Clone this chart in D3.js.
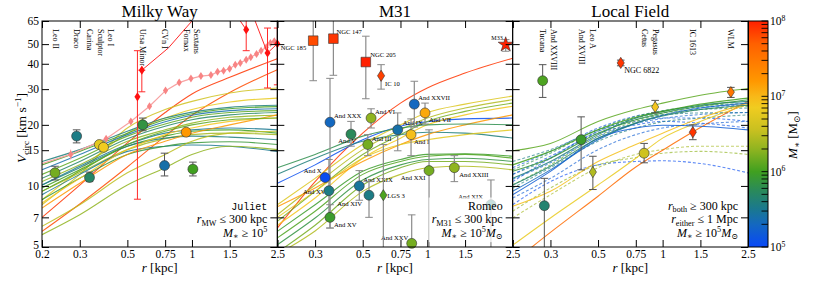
<!DOCTYPE html>
<html>
<head>
<meta charset="utf-8">
<script src="https://cdn.jsdelivr.net/npm/d3@7"></script>
<style>
  body { margin: 0; background: #fff; }
  svg text { font-family: "Liberation Serif", "DejaVu Serif", serif; fill: #000; }
</style>
</head>
<body>
<div id="chart"></div>
<script>
"use strict";

// radii (kpc) at which every simulated curve was read off the figure
let radiusGrid = [0.2, 0.3, 0.5, 0.75, 1, 1.5, 2.5];
let xTickValues = [0.2, 0.3, 0.5, 0.75, 1, 1.5, 2.5];
let yTickValues = [5, 7, 10, 15, 20, 30, 40, 50, 65];
let panelTitles = ['Milky Way', 'M31', 'Local Field'];

// log10 M* -> colour
let massStops = [5, 5.3, 5.5, 5.75, 6, 6.3, 6.55, 6.85, 7, 7.2, 7.7, 8];
let massColors = ['#0848f8', '#1468c0', '#1a7890', '#2a8a5a', '#40a020', '#90b420',
  '#c8c020', '#f0cc20', '#f8b818', '#ff9800', '#ff6000', '#ff2000'];

// curves: [log10 M*, Vcirc at each radiusGrid entry]
let mwCurves = [
  [7.9, 7.0, 10.1, 16.3, 23.0, 28.4, 34.3, 42.4],
  [7.8, 5.97, 8.15, 12.4, 17.6, 22.3, 28.9, 37.4],
  [6.6, 8.08, 11.4, 19.3, 23.8, 26.1, 28.7, 30.4],
  [6.8, 8.55, 12.0, 18.2, 21.6, 23.8, 25.9, 27.1],
  [5.6, 13.2, 15.1, 18.6, 21.6, 23.1, 24.4, 25.0],
  [6.0, 12.7, 14.8, 18.2, 21.2, 22.7, 24.0, 24.6],
  [5.4, 12.0, 14.3, 17.9, 20.7, 22.3, 23.5, 24.0],
  [6.1, 11.4, 13.7, 17.6, 20.2, 21.8, 23.0, 23.5],
  [5.7, 10.9, 13.2, 17.1, 19.7, 21.2, 22.4, 23.0],
  [6.3, 10.5, 12.7, 16.6, 18.9, 20.4, 21.8, 22.3],
  [5.5, 10.1, 12.5, 16.0, 18.2, 18.9, 19.3, 18.9],
  [6.0, 9.77, 12.0, 15.7, 17.6, 18.6, 18.9, 18.2],
  [6.4, 9.41, 11.6, 15.1, 17.1, 17.9, 18.2, 17.9],
  [5.6, 10.1, 12.3, 15.7, 17.2, 17.6, 17.4, 16.9],
  [5.5, 9.05, 11.4, 14.8, 15.7, 15.9, 15.7, 14.8],
  [5.9, 8.55, 10.9, 14.3, 15.7, 16.3, 16.5, 16.0],
  [6.3, 5.75, 7.21, 10.1, 12.3, 14.3, 15.7, 15.1],
  [7.2, 7.78, 10.3, 14.3, 16.6, 18.2, 20.0, 22.4],
  [6.9, 8.24, 10.9, 15.1, 17.9, 19.3, 20.8, 21.6],
  [6.1, 9.41, 11.8, 16.0, 18.6, 20.0, 21.2, 21.6],
  [6.5, 6.32, 8.08, 11.6, 14.3, 16.6, 18.2, 18.6]
];

let m31Curves = [
  [7.9, 6.2, 10.5, 18.2, 25.6, 30.4, 36.0, 42.6],
  [5.05, 10.3, 12.7, 16.9, 19.7, 20.7, 21.4, 21.6],
  [5.6, 11.4, 13.7, 16.6, 17.9, 18.4, 18.2, 17.2],
  [6.7, 8.08, 10.9, 16.0, 20.0, 23.0, 25.3, 27.7],
  [6.45, 7.21, 10.1, 15.1, 18.9, 21.6, 24.2, 26.6],
  [6.2, 6.69, 9.41, 14.3, 17.9, 20.8, 23.3, 25.6],
  [6.9, 6.4, 8.72, 13.7, 17.2, 20.0, 22.4, 24.7],
  [7.2, 7.9, 9.77, 13.2, 16.0, 17.9, 20.0, 22.4],
  [5.95, 5.97, 8.08, 11.8, 13.5, 14.3, 14.4, 14.0],
  [6.05, 5.54, 7.5, 11.4, 13.2, 14.0, 14.3, 13.7],
  [5.85, 5.13, 6.95, 10.7, 12.7, 13.5, 13.7, 13.2],
  [6.2, 4.7, 6.4, 10.1, 12.3, 13.2, 13.2, 12.7],
  [6.45, 4.6, 6.0, 9.4, 11.4, 12.3, 12.5, 12.0],
  [5.8, 12.3, 14.3, 17.6, 19.3, 20.0, 20.2, 20.0],
  [6.75, 7.0, 9.4, 13.7, 16.0, 16.9, 17.9, 18.9]
];

let fieldCurves = [
  [6.1, 14.9, 16.2, 20.8, 23.8, 25.6, 28.0, 30.2],
  [7.6, 4.2, 5.9, 8.9, 12.4, 15.0, 19.4, 26.1],
  [6.95, 7.94, 9.41, 13.2, 16.0, 18.2, 21.6, 25.6],
  [6.8, 5.1, 6.95, 10.1, 13.7, 17.2, 20.8, 25.2],
  [5.2, 9.05, 11.8, 17.2, 19.3, 19.9, 19.7, 18.9],
  [5.6, 10.9, 13.2, 17.9, 21.6, 23.3, 25.0, 26.1],
  [5.9, 11.8, 13.7, 18.2, 21.2, 22.9, 24.7, 26.6],
  [5.3, 9.41, 12.0, 16.9, 20.4, 22.3, 24.2, 25.6],
  [6.0, 12.7, 14.8, 18.9, 21.8, 23.3, 25.3, 27.1],
  [5.65, 10.1, 12.5, 17.2, 20.4, 22.1, 23.8, 25.0]
];

let fieldDashed = [
  [5.1, 10.5, 13.7, 18.6, 20.8, 21.6, 21.6, 20.8],
  [5.05, 8.08, 10.5, 12.7, 13.2, 13.3, 12.9, 11.6],
  [6.3, 7.5, 9.77, 12.7, 13.8, 14.5, 14.8, 14.3],
  [5.6, 11.4, 13.7, 18.6, 21.6, 22.9, 23.8, 24.2],
  [5.15, 12.3, 14.8, 19.3, 22.1, 23.3, 24.4, 25.0],
  [6.1, 10.1, 12.7, 17.6, 20.8, 22.4, 23.8, 24.7],
  [5.55, 13.2, 15.1, 18.9, 21.2, 22.4, 22.9, 23.0],
  [5.2, 8.72, 10.9, 15.1, 17.9, 19.3, 20.2, 20.8],
  [6.4, 6.95, 9.05, 12.3, 14.3, 15.1, 15.7, 15.7],
  [5.1, 11.4, 14.0, 18.2, 20.0, 20.8, 20.4, 19.3],
  [5.6, 9.77, 12.3, 16.6, 19.3, 20.7, 21.6, 22.4],
  [5.8, 12.0, 14.5, 19.0, 22.0, 23.5, 24.8, 25.5],
  [5.25, 10.8, 13.0, 17.5, 20.3, 21.5, 22.5, 23.0]
];

// observed dwarfs: [name, r, V, V low, V high, log10 M*, marker]
let mwDwarfs = [
  ['Leo II', 0.230, 11.6, 10.7, 12.5, 6.2, 'circle'],
  ['Draco', 0.290, 17.6, 16.3, 18.9, 5.55, 'circle'],
  ['Carina', 0.333, 11.0, 10.5, 11.7, 5.7, 'circle'],
  ['Sculptor', 0.370, 16.0, 15.5, 16.5, 6.75, 'circle'],
  ['Leo I', 0.387, 15.5, 15.0, 16.0, 6.85, 'circle'],
  ['Ursa Minor', 0.590, 20.0, 18.7, 21.6, 5.85, 'circle'],
  ['CVn I', 0.745, 12.6, 11.2, 14.5, 5.4, 'circle'],
  ['Fornax', 0.940, 18.4, 17.9, 18.9, 7.2, 'circle'],
  ['Sextans', 1.01, 12.1, 11.2, 13.1, 6.0, 'circle']
];

let m31Dwarfs = [
  ['NGC 185', 0.294, 52.0, 33.0, 70, 7.8, 'square'],
  ['NGC 147', 0.365, 53.2, 35.1, 70, 7.9, 'square'],
  ['NGC 205', 0.517, 40.8, 26.9, 54.7, 8.0, 'square'],
  ['IC 10', 0.609, 34.9, 30.0, 39.6, 7.85, 'diamond'],
  ['M33', 2.32, 49.7, 46.1, 52.6, 8.5, 'star'],
  ['And XXX', 0.352, 20.6, 6.2, 33.9, 5.3, 'circle'],
  ['And V', 0.441, 18.0, 15.7, 20.8, 5.75, 'circle'],
  ['And VI', 0.547, 21.6, 19.3, 24.0, 6.3, 'circle'],
  ['And III', 0.528, 16.0, 14.1, 17.9, 6.2, 'circle'],
  ['And XXVII', 0.870, 25.3, 19.5, 32.8, 5.3, 'circle'],
  ['And IX', 0.728, 18.9, 14.9, 22.9, 5.4, 'circle'],
  ['And VII', 0.976, 22.9, 20.2, 25.6, 7.1, 'circle'],
  ['And I', 0.840, 17.9, 14.1, 21.4, 6.95, 'circle'],
  ['And XXI', 1.019, 11.9, 4.0, 18.9, 6.2, 'circle'],
  ['And XXIII', 1.337, 12.3, 10.5, 14.1, 6.3, 'circle'],
  ['And XIX', 1.98, 8.08, 4.0, 10.7, 5.6, 'circle'],
  ['And X', 0.334, 11.0, 11.0, 11.0, 5.05, 'circle'],
  ['And XVII', 0.348, 9.47, 6.8, 13.5, 5.55, 'circle'],
  ['And XV', 0.352, 7.0, 6.2, 8.08, 5.95, 'circle'],
  ['And XXIX', 0.482, 10.0, 8.5, 11.9, 5.45, 'circle'],
  ['And XIV', 0.535, 9.0, 7.0, 10.5, 5.55, 'circle'],
  ['LGS 3', 0.624, 9.0, 4.0, 16.0, 6.05, 'diamond'],
  ['And XXV', 0.846, 5.21, 4.0, 7.2, 6.2, 'circle']
];

let fieldDwarfs = [
  ['Tucana', 0.276, 33.0, 27.3, 39.6, 6.05, 'circle'],
  ['And XXVIII', 0.281, 7.99, 4.0, 10.9, 5.65, 'circle'],
  ['And XVIII', 0.417, 16.9, 12.0, 21.9, 5.95, 'circle'],
  ['Leo A', 0.473, 11.7, 9.6, 14.0, 6.45, 'diamond'],
  ['NGC 6822', 0.638, 40.4, 39.1, 41.7, 7.9, 'diamond'],
  ['Cetus', 0.820, 14.5, 13.0, 16.2, 6.6, 'circle'],
  ['Pegasus', 0.923, 24.5, 22.9, 26.4, 6.9, 'diamond'],
  ['IC 1613', 1.383, 18.4, 16.9, 20.0, 7.9, 'diamond'],
  ['WLM', 2.08, 29.0, 27.3, 30.6, 7.5, 'diamond']
];

// red measurements in the MW panel: [r, V, V low, V high]
let mwRedPoints = [
  [0.557, 27.5, 8.6, 46.4],
  [0.584, 37.2, 29.1, 37.2],
  [1.79, 58.9, 46.4, 70],
  [2.25, 45.2, 30.4, 60],
  [2.5, 50.2, 31.5, 60]
];
let mwRedTracks = [
  [[0.584, 37.2], [0.777, 47.9], [1.0, 65]],
  [[1.68, 65], [1.79, 58.9]],
  [[1.97, 65], [2.25, 45.2], [2.5, 50.2]]
];

// pink rotation curve: [r, V, error]
let lmcCurve = [
  [0.17, 12.2, 0], [0.272, 14.3, 0.8], [0.398, 17.1, 0.4], [0.519, 20.8, 0.4],
  [0.634, 24.7, 0.5], [0.753, 29.5, 0.6], [0.872, 32.3, 0.6], [0.989, 33.8, 0.6],
  [1.101, 34.8, 0.6], [1.226, 35.2, 0.6], [1.316, 36.5, 0.7], [1.404, 37.0, 0.7],
  [1.498, 37.8, 0.7], [1.592, 39.6, 0.8], [1.68, 40.4, 0.8], [1.79, 41.9, 0.8],
  [1.88, 43.1, 0.8], [2.0, 44.7, 0.9], [2.10, 46.4, 0.9], [2.22, 48.2, 1.0],
  [2.32, 50.7, 1.0], [2.42, 51.6, 1.0]
];

let legendLines = [
  [[['Juliet', 'mono']], [['r', 'i'], ['MW', 'sub'], [' ≤ 300 kpc', '']], [['M', 'i'], ['∗', 'sub'], [' ≥ 10', ''], ['5', 'sup']]],
  [[['Romeo', '']], [['r', 'i'], ['M31', 'sub'], [' ≤ 300 kpc', '']], [['M', 'i'], ['∗', 'sub'], [' ≥ 10', ''], ['5', 'sup'], ['M', 'i'], ['⊙', 'sub']]],
  [[['r', 'i'], ['both', 'sub'], [' ≥ 300 kpc', '']], [['r', 'i'], ['either', 'sub'], [' ≤ 1 Mpc', '']], [['M', 'i'], ['∗', 'sub'], [' ≥ 10', ''], ['5', 'sup'], ['M', 'i'], ['⊙', 'sub']]]
];

// ---------------------------------------------------------------------------

let width = 830;
let height = 283;
let plotTop = 21;
let plotBottom = 247;
let plotLeft = 42;
let panelW = 235.33;

// label offsets (px) for the named points in the M31 / field panels
let labelOffsets = {
  'NGC 185': [-7, 9, 'end'], 'NGC 147': [3, -5, 'start'], 'NGC 205': [4.5, -5, 'start'],
  'IC 10': [4, 10, 'start'], 'M33': [-3, -5, 'end'], 'And XXVII': [4, -4, 'start'],
  'And XXX': [4, -4, 'start'], 'And VI': [4, -4, 'start'], 'And IX': [5, -5, 'start'],
  'And VII': [4, 9, 'start'], 'And V': [5, 9, 'end'], 'And III': [4, -4, 'start'],
  'And I': [3, 9, 'start'], 'And X': [-3.5, -5, 'end'], 'And XXI': [-3.5, 9, 'end'],
  'And XXIII': [5, 9, 'start'], 'And XXIX': [4, -4, 'start'], 'And XIV': [-7, 11, 'end'],
  'And XVII': [1, 3.5, 'end'], 'And XV': [4, 9.5, 'start'], 'LGS 3': [4, 3, 'start'],
  'And XIX': [-8, -6, 'end'], 'And XXV': [-3.5, -3, 'end'], 'NGC 6822': [3.5, 10, 'start']
};

let svg = d3.select('#chart')
  .append('svg')
  .attr('width', width)
  .attr('height', height);

let y = d3.scaleLog().domain([5, 65]).range([plotBottom, plotTop]);
let color = d3.scaleLinear().domain(massStops).range(massColors).clamp(true);

let markerPath = shape => {
  if (shape === 'square') return 'M-4.8,-4.8H4.8V4.8H-4.8Z';
  if (shape === 'diamond') return 'M0,-5.6L3.6,0L0,5.6L-3.6,0Z';
  if (shape === 'star') return d3.symbol(d3.symbolStar, 70)();
  return d3.symbol(d3.symbolCircle, 78)();
};

let rich = (sel, parts, fs) => {
  let shift = 0;
  parts.forEach(p => {
    let t = sel.append('tspan').text(p[0]);
    let s = p[1] === 'sub' ? fs * 0.22 : (p[1] === 'sup' ? -fs * 0.38 : 0);
    if (s !== shift) t.attr('dy', s - shift);
    shift = s;
    if (p[1] === 'sub' || p[1] === 'sup') t.attr('font-size', fs * 0.68);
    if (p[1] === 'i') t.attr('font-style', 'italic');
    if (p[1] === 'mono') t.attr('font-family', '"Liberation Mono", "DejaVu Sans Mono", monospace').attr('font-size', 10);
  });
};

let panels = [
  { curves: mwCurves, dashed: [], dwarfs: mwDwarfs, topLabels: true },
  { curves: m31Curves, dashed: [], dwarfs: m31Dwarfs, topLabels: false },
  { curves: fieldCurves, dashed: fieldDashed, dwarfs: fieldDwarfs, topLabels: true }
];

let curvePoints = row => row.slice(1).map((v, k) => [radiusGrid[k], v]);

panels.forEach((p, i) => {
  let x0 = plotLeft + i * panelW;
  let x = d3.scaleLog().domain([0.2, 2.5]).range([x0, x0 + panelW]);
  let g = svg.append('g');

  g.append('clipPath').attr('id', 'clip' + i)
    .append('rect')
    .attr('x', x0).attr('y', plotTop)
    .attr('width', panelW).attr('height', plotBottom - plotTop);

  let line = d3.line()
    .x(d => x(d[0]))
    .y(d => y(d[1]))
    .curve(d3.curveMonotoneX);

  let clipped = g.append('g').attr('clip-path', 'url(#clip' + i + ')');

  clipped.selectAll('path.dash')
    .data(p.dashed)
    .join('path')
    .attr('fill', 'none')
    .attr('stroke', d => color(d[0]))
    .attr('stroke-width', 1.1)
    .attr('stroke-dasharray', '3,2')
    .attr('opacity', 0.65)
    .attr('d', d => line(curvePoints(d)));

  clipped.selectAll('path.curve')
    .data(p.curves)
    .join('path')
    .attr('fill', 'none')
    .attr('stroke', d => color(d[0]))
    .attr('stroke-width', 1.1)
    .attr('opacity', 0.85)
    .attr('d', d => line(curvePoints(d)));

  if (i === 0) {
    let straight = d3.line().x(d => x(d[0])).y(d => y(d[1]));
    // pink rotation curve
    clipped.append('path')
      .datum(lmcCurve)
      .attr('fill', 'none')
      .attr('stroke', '#f7a3a3')
      .attr('stroke-width', 1.2)
      .attr('d', straight);
    lmcCurve.filter(d => d[2] > 0).forEach(d => {
      clipped.append('line')
        .attr('x1', x(d[0])).attr('x2', x(d[0]))
        .attr('y1', y(d[1] - d[2])).attr('y2', y(d[1] + d[2]))
        .attr('stroke', '#f7a3a3');
      clipped.append('path')
        .attr('d', 'M0,-4L2.6,0L0,4L-2.6,0Z')
        .attr('transform', 'translate(' + x(d[0]) + ',' + y(d[1]) + ')')
        .attr('fill', '#f88484');
    });
    mwRedTracks.forEach(t => {
      clipped.append('path')
        .datum(t)
        .attr('fill', 'none')
        .attr('stroke', '#ff2a2a')
        .attr('stroke-width', 1)
        .attr('d', straight);
    });
    mwRedPoints.forEach(d => {
      let cx = x(d[0]);
      clipped.append('line')
        .attr('x1', cx).attr('x2', cx)
        .attr('y1', y(d[2])).attr('y2', y(d[3]))
        .attr('stroke', '#ff2a2a');
      [d[2], d[3]].forEach(v => {
        clipped.append('line')
          .attr('x1', cx - 3.5).attr('x2', cx + 3.5)
          .attr('y1', y(v)).attr('y2', y(v))
          .attr('stroke', '#ff2a2a');
      });
      g.append('path')
        .attr('d', 'M0,-4.6L3,0L0,4.6L-3,0Z')
        .attr('transform', 'translate(' + cx + ',' + y(d[1]) + ')')
        .attr('fill', '#ff1010');
    });
  }

  // labels next to points
  p.dwarfs.filter(d => labelOffsets[d[0]]).forEach(d => {
    let o = labelOffsets[d[0]];
    g.append('text')
      .attr('x', x(d[1]) + o[0])
      .attr('y', y(d[2]) + o[1])
      .attr('text-anchor', o[2])
      .attr('font-size', d[0] === 'NGC 6822' ? 8 : (d[0] === 'M33' ? 6 : 6.6))
      .text(d[0]);
  });

  // rotated names along the top
  if (p.topLabels) {
    let prev = -100;
    p.dwarfs.filter(d => !labelOffsets[d[0]])
      .slice().sort((a, b) => a[1] - b[1])
      .forEach(d => {
        let lx = Math.max(x(d[1]), prev + 10.5);
        prev = lx;
        g.append('text')
          .attr('transform', 'translate(' + lx + ',29) rotate(90)')
          .attr('dominant-baseline', 'central')
          .attr('font-size', 8)
          .text(d[0]);
      });
  }

  // error bars
  let errColor = i === 1 ? '#8a8a8a' : '#555';
  let errs = g.append('g').attr('clip-path', 'url(#clip' + i + ')');
  p.dwarfs.filter(d => d[4] > d[3]).forEach(d => {
    let cx = x(d[1]);
    errs.append('line')
      .attr('x1', cx).attr('x2', cx)
      .attr('y1', y(d[3])).attr('y2', y(d[4]))
      .attr('stroke', errColor).attr('stroke-width', i === 1 ? 1.2 : 1);
    [d[3], d[4]].forEach(v => {
      errs.append('line')
        .attr('x1', cx - 3.8).attr('x2', cx + 3.8)
        .attr('y1', y(v)).attr('y2', y(v))
        .attr('stroke', errColor);
    });
  });

  g.selectAll('path.marker')
    .data(p.dwarfs)
    .join('path')
    .attr('d', d => markerPath(d[6]))
    .attr('transform', d => 'translate(' + x(d[1]) + ',' + y(d[2]) + ')')
    .attr('fill', d => color(d[5]))
    .attr('stroke', '#333')
    .attr('stroke-width', 0.6);

  // legend text with a translucent backing box
  let leg = g.append('g');
  let legBox = leg.append('rect').attr('fill', '#fff').attr('opacity', 0.75);
  let legText = leg.append('g');
  legendLines[i].forEach((parts, k) => {
    let t = legText.append('text')
      .attr('x', x0 + panelW - 10)
      .attr('y', 209.5 + k * 13.5)
      .attr('text-anchor', 'end')
      .attr('font-size', 12);
    rich(t, parts, 12);
  });
  let bb = legText.node().getBBox();
  legBox.attr('x', bb.x - 3).attr('y', bb.y - 1)
    .attr('width', bb.width + 6).attr('height', bb.height + 2);

  // axes, ticks pointing inwards on all four sides
  let styleAxis = a => {
    a.select('.domain').remove();
    a.attr('font-family', null).attr('font-size', 11.5);
    a.selectAll('line').attr('stroke', '#000');
  };
  g.append('g')
    .attr('transform', 'translate(0,' + plotBottom + ')')
    .call(d3.axisBottom(x).tickValues(xTickValues).tickSize(-7).tickPadding(3)
      .tickFormat(d => (i > 0 && d === 0.2) ? '' : String(d)))
    .call(styleAxis);
  g.append('g')
    .attr('transform', 'translate(0,' + plotTop + ')')
    .call(d3.axisTop(x).tickValues(xTickValues).tickSize(-7).tickFormat(''))
    .call(styleAxis);
  let yAxis = g.append('g')
    .attr('transform', 'translate(' + x0 + ',0)')
    .call(d3.axisLeft(y).tickValues(yTickValues).tickSize(-7).tickPadding(3)
      .tickFormat(d => i === 0 ? String(d) : ''))
    .call(styleAxis);
  // lift the lowest label a little so it clears the "0.2" below it
  yAxis.selectAll('text').filter(d => d === 5).attr('dy', '0.12em');
  g.append('g')
    .attr('transform', 'translate(' + (x0 + panelW) + ',0)')
    .call(d3.axisRight(y).tickValues(yTickValues).tickSize(-7).tickFormat(''))
    .call(styleAxis);

  g.append('rect')
    .attr('x', x0).attr('y', plotTop)
    .attr('width', panelW).attr('height', plotBottom - plotTop)
    .attr('fill', 'none').attr('stroke', '#000').attr('stroke-width', 1);

  g.append('text')
    .attr('x', x0 + panelW / 2).attr('y', 16.5)
    .attr('text-anchor', 'middle')
    .attr('font-size', 17)
    .text(panelTitles[i]);

  let xl = g.append('text')
    .attr('x', x0 + panelW / 2).attr('y', 272)
    .attr('text-anchor', 'middle')
    .attr('font-size', 13);
  rich(xl, [['r', 'i'], [' [kpc]', '']], 13);
});

// y axis title
let yl = svg.append('text')
  .attr('transform', 'translate(26,128) rotate(-90)')
  .attr('text-anchor', 'middle')
  .attr('font-size', 13.5);
rich(yl, [['V', 'i'], ['circ', 'sub'], [' [km s', ''], ['−1', 'sup'], [']', '']], 13.5);

// colour bar
let cbX = 748.5;
let cbW = 19.5;
let defs = svg.append('defs');
let grad = defs.append('linearGradient').attr('id', 'massGrad')
  .attr('x1', 0).attr('y1', 1).attr('x2', 0).attr('y2', 0);
massStops.forEach((m, k) => {
  grad.append('stop')
    .attr('offset', (m - 5) / 3)
    .attr('stop-color', massColors[k]);
});
svg.append('rect')
  .attr('x', cbX).attr('y', plotTop)
  .attr('width', cbW).attr('height', plotBottom - plotTop)
  .attr('fill', 'url(#massGrad)')
  .attr('stroke', '#000').attr('stroke-width', 1);

let cb = d3.scaleLog().domain([1e5, 1e8]).range([plotBottom, plotTop]);
let cbTicks = [];
for (let e = 5; e < 8; e++) {
  for (let k = 1; k < 10; k++) cbTicks.push(k * Math.pow(10, e));
}
cbTicks.push(1e8);
svg.append('g').selectAll('line')
  .data(cbTicks)
  .join('line')
  .attr('x1', cbX + cbW).attr('x2', cbX + cbW - 6.5)
  .attr('y1', d => cb(d)).attr('y2', d => cb(d))
  .attr('stroke', '#000').attr('stroke-width', 0.9);

[5, 6, 7, 8].forEach(e => {
  let t = svg.append('text')
    .attr('x', cbX + cbW + 2).attr('y', cb(Math.pow(10, e)) + 4)
    .attr('font-size', 11.5);
  rich(t, [['10', ''], [String(e), 'sup']], 11.5);
});

let cl = svg.append('text')
  .attr('transform', 'translate(797,135) rotate(-90)')
  .attr('text-anchor', 'middle')
  .attr('font-size', 13);
rich(cl, [['M', 'i'], ['∗', 'sub'], [' [M', ''], ['⊙', 'sub'], [']', '']], 13);
</script>
</body>
</html>
